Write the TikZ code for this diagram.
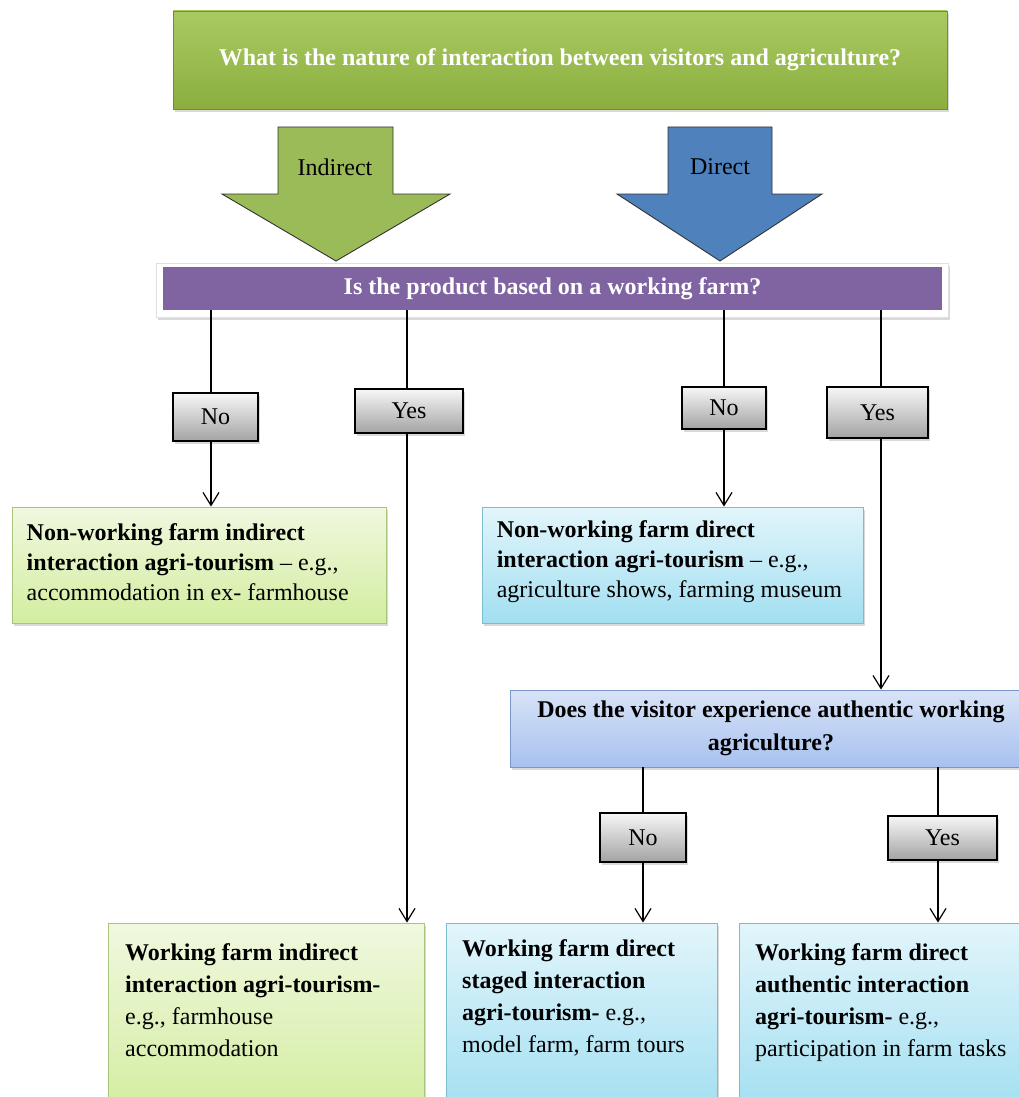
\documentclass[tikz,border=0pt]{standalone}
\usepackage{fontspec}
\setmainfont{Liberation Serif}
\usetikzlibrary{arrows.meta,shadows}

\definecolor{topgreenA}{HTML}{A9CA61}
\definecolor{topgreenB}{HTML}{8BAE3F}
\definecolor{topgreenLine}{HTML}{718B3A}
\definecolor{indgreen}{HTML}{9BBB59}
\definecolor{dirblue}{HTML}{4F81BD}
\definecolor{barpurple}{HTML}{8064A2}
\definecolor{lblA}{HTML}{F7F7F7}
\definecolor{lblB}{HTML}{A3A3A3}
\definecolor{grA}{HTML}{F0F8DF}
\definecolor{grB}{HTML}{D3EDA0}
\definecolor{grLine}{HTML}{A9C47C}
\definecolor{blA}{HTML}{E2F5FB}
\definecolor{blB}{HTML}{A2DFF1}
\definecolor{blLine}{HTML}{7DBCD0}
\definecolor{qbA}{HTML}{D8E3F8}
\definecolor{qbB}{HTML}{A7C1EE}
\definecolor{qbLine}{HTML}{7896C8}

\tikzset{
  softshadow/.style={drop shadow={shadow xshift=2pt,shadow yshift=-3pt,opacity=0.3}},
  big/.style={font=\fontsize{24}{30}\selectfont},
  bigbold/.style={font=\fontsize{24}{30}\selectfont\bfseries},
  topbox/.style={rectangle, inner sep=0pt, top color=topgreenA, bottom color=topgreenB,
    draw=topgreenLine, line width=0.8pt, softshadow, text=white, bigbold},
  blockarrow/.style={draw=black!80, line width=0.9pt, line join=miter},
  barframe/.style={rectangle, inner sep=0pt, fill=white, draw=black!12, line width=0.6pt, softshadow},
  purplebar/.style={rectangle, inner sep=0pt, fill=barpurple, text=white, bigbold},
  answer/.style={rectangle, inner sep=0pt, top color=lblA, bottom color=lblB,
    draw=black, line width=1.1pt, softshadow, big},
  greenbox/.style={rectangle, top color=grA, bottom color=grB, draw=grLine,
    line width=0.9pt, softshadow},
  bluebox/.style={rectangle, top color=blA, bottom color=blB, draw=blLine,
    line width=0.9pt, softshadow},
  qbox/.style={rectangle, inner sep=0pt, top color=qbA, bottom color=qbB, draw=qbLine,
    line width=0.9pt, softshadow, bigbold, align=center},
  outcome/.style={inner sep=0pt, align=left, big},
  conn/.style={draw=black, line width=1.2pt},
  tip/.style={-{Straight Barb[length=13pt,width=16pt,line width=1.2pt]}},
}

\begin{document}
\begin{tikzpicture}[x=1pt,y=-1pt]
\useasboundingbox (0,0) rectangle (1019,1097);
\clip (0,0) rectangle (1019,1097);

% top question
\node[topbox, minimum width=774pt, minimum height=98pt] (q1) at (560,60)
  {What is the nature of interaction between visitors and agriculture?};

% the two block arrows
\path[blockarrow, fill=indgreen] (278,127) -- (393,127) -- (393,194) -- (450,194)
  -- (336,261) -- (222,194) -- (278,194) -- cycle;
\node[big] (lind) at (335,167) {Indirect};
\path[blockarrow, fill=dirblue] (668,127) -- (772,127) -- (772,194) -- (822,194)
  -- (720,261) -- (617,194) -- (668,194) -- cycle;
\node[big] (ldir) at (720,167) {Direct};

% second question bar
\node[barframe, minimum width=792pt, minimum height=54pt] (q2frame) at (552,290) {};
\node[purplebar, minimum width=779pt, minimum height=43pt] (q2) at (552.5,288.5)
  {Is the product based on a working farm?};

% answers to the second question
\node[answer, minimum width=85pt, minimum height=48pt] (no1) at (215.5,417) {No};
\node[answer, minimum width=108pt, minimum height=44pt] (yes1) at (409,411) {Yes};
\node[answer, minimum width=84pt, minimum height=42pt] (no2) at (724,408) {No};
\node[answer, minimum width=101pt, minimum height=51pt] (yes2) at (877.5,412.5) {Yes};

% non-working farm outcomes
\node[greenbox, minimum width=374pt, minimum height=116pt] (ngi) at (199,565) {};
\node[outcome, anchor=west] (ngitext) at ([xshift=15pt,yshift=3pt]ngi.west)
  {\textbf{Non-working farm indirect}\\
   \textbf{interaction agri-tourism} \textendash\ e.g.,\\
   accommodation in ex- farmhouse};
\node[bluebox, minimum width=381pt, minimum height=116pt] (ngd) at (672.5,565) {};
\node[outcome, anchor=west] (ngdtext) at ([xshift=15pt,yshift=3pt]ngd.west)
  {\textbf{Non-working farm direct}\\
   \textbf{interaction agri-tourism} \textendash\ e.g.,\\
   agriculture shows, farming museum};

% third question
\node[qbox, minimum width=522pt, minimum height=77pt,
      font=\fontsize{24}{33}\selectfont\bfseries] (q3) at (771,728.5)
  {Does the visitor experience authentic working\\ agriculture?};

\node[answer, minimum width=86pt, minimum height=49pt] (no3) at (643,837.5) {No};
\node[answer, minimum width=109pt, minimum height=44pt] (yes3) at (942.5,838) {Yes};

% working farm outcomes
\node[greenbox, minimum width=316pt, minimum height=190pt] (wfi) at (266,1018) {};
\node[outcome, anchor=north west, font=\fontsize{24}{32}\selectfont] (wfitext) at (125,943)
  {\textbf{Working farm indirect}\\
   \textbf{interaction agri-tourism-}\\
   e.g., farmhouse\\
   accommodation};
\node[bluebox, minimum width=271pt, minimum height=190pt] (wfd) at (581.5,1018) {};
\node[outcome, anchor=north west, font=\fontsize{24}{32}\selectfont] (wfdtext) at (462,939)
  {\textbf{Working farm direct}\\
   \textbf{staged interaction}\\
   \textbf{agri-tourism-} e.g.,\\
   model farm, farm tours};
\node[bluebox, minimum width=296pt, minimum height=190pt] (wfa) at (887,1018) {};
\node[outcome, anchor=north west, font=\fontsize{24}{32}\selectfont] (wfatext) at (755,943)
  {\textbf{Working farm direct}\\
   \textbf{authentic interaction}\\
   \textbf{agri-tourism-} e.g.,\\
   participation in farm tasks};

% connector columns
\coordinate (ca) at (211,310);
\coordinate (cb) at (407,310);
\coordinate (cc) at (724,310);
\coordinate (cd) at (881,310);
\coordinate (ce) at (643,767);
\coordinate (cf) at (938,767);

\draw[conn] (ca) -- (ca |- no1.north);
\draw[conn,tip] (ca |- no1.south) -- (ca |- ngi.north);
\draw[conn] (cb) -- (cb |- yes1.north);
\draw[conn,tip] (cb |- yes1.south) -- (cb |- wfi.north);
\draw[conn] (cc) -- (cc |- no2.north);
\draw[conn,tip] (cc |- no2.south) -- (cc |- ngd.north);
\draw[conn] (cd) -- (cd |- yes2.north);
\draw[conn,tip] (cd |- yes2.south) -- (cd |- q3.north);
\draw[conn] (ce) -- (ce |- no3.north);
\draw[conn,tip] (ce |- no3.south) -- (ce |- wfd.north);
\draw[conn] (cf) -- (cf |- yes3.north);
\draw[conn,tip] (cf |- yes3.south) -- (cf |- wfa.north);
\end{tikzpicture}
\end{document}
